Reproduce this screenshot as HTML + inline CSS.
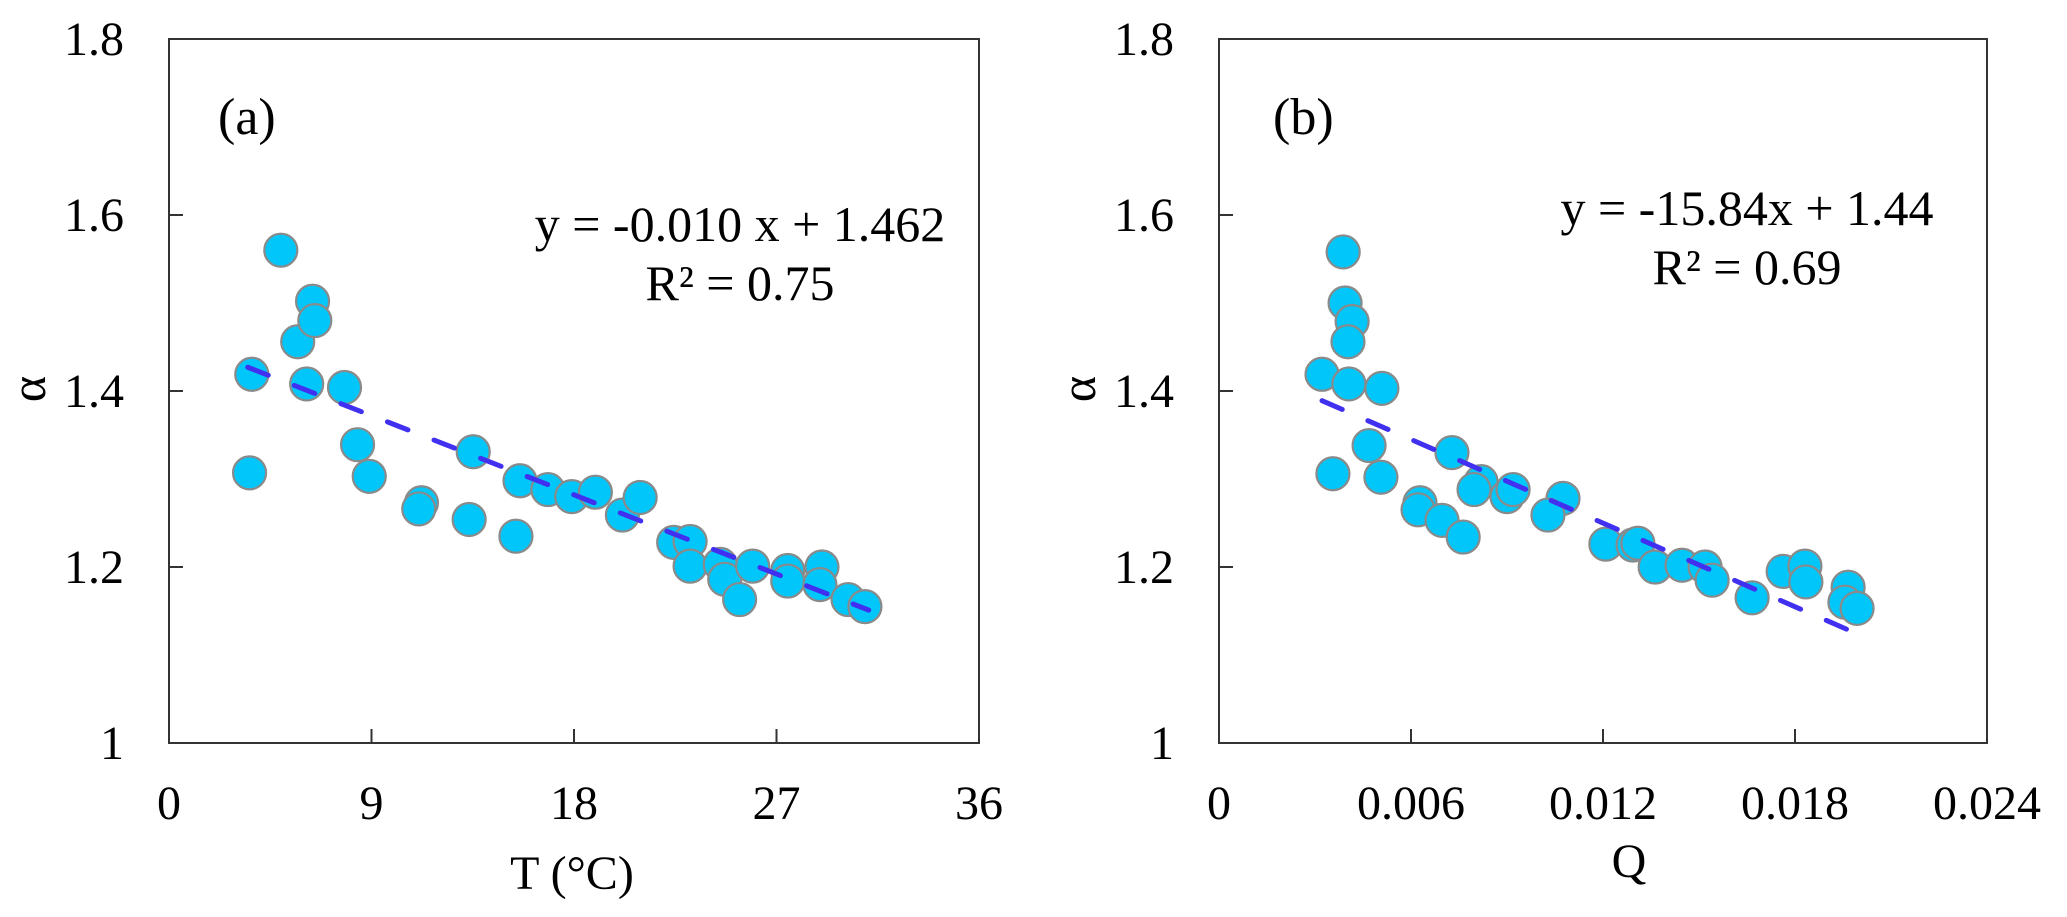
<!DOCTYPE html>
<html><head><meta charset="utf-8">
<style>
html,body{margin:0;padding:0;background:#fff;}
svg{display:block;font-family:"Liberation Serif",serif;}
</style></head>
<body>
<svg id="chart" width="2067" height="917" viewBox="0 0 2067 917" xmlns="http://www.w3.org/2000/svg"></svg>
<script>
// Panel (a): alpha vs temperature
const tempValues = [3.68,3.58,4.97,5.72,6.38,6.48,6.12,7.8,8.38,8.9,11.22,11.1,13.34,13.52,15.42,15.6,16.84,17.9,18.95,20.15,20.94,22.43,23.16,23.16,24.5,24.7,25.36,25.94,27.5,27.5,29.02,28.93,30.18,30.93];
const alphaA = [1.419,1.307,1.560,1.456,1.502,1.480,1.408,1.404,1.339,1.303,1.273,1.266,1.254,1.331,1.235,1.298,1.288,1.280,1.285,1.259,1.279,1.228,1.229,1.201,1.203,1.186,1.163,1.201,1.196,1.184,1.200,1.180,1.163,1.155];
const fitA = {slope:-0.010, intercept:1.462, x0:3.5, x1:31.1};
const xTicksA = [0,9,18,27,36];
// Panel (b): alpha vs Q
const qValues = [0.00388,0.00394,0.00416,0.00403,0.00322,0.00406,0.00509,0.00469,0.00356,0.00506,0.00728,0.00628,0.00622,0.00697,0.00763,0.00819,0.00797,0.00900,0.00919,0.01075,0.01028,0.01209,0.01294,0.01309,0.01363,0.01447,0.01519,0.01541,0.01666,0.01763,0.01831,0.01834,0.01966,0.01956,0.01994];
const alphaB = [1.558,1.500,1.479,1.456,1.419,1.408,1.403,1.338,1.306,1.302,1.330,1.273,1.265,1.253,1.234,1.297,1.288,1.280,1.288,1.278,1.259,1.226,1.225,1.227,1.200,1.202,1.200,1.185,1.165,1.195,1.201,1.183,1.177,1.160,1.153];
const fitB = {slope:-15.84, intercept:1.44, x0:0.00322, x1:0.01966};
const xTicksB = ["0","0.006","0.012","0.018","0.024"];
const yTicks = ["1","1.2","1.4","1.6","1.8"];

const NS="http://www.w3.org/2000/svg";
const svg=document.getElementById('chart');
function mk(tag,attrs,parent){const e=document.createElementNS(NS,tag);for(const k in attrs)e.setAttribute(k,attrs[k]);(parent||svg).appendChild(e);return e;}

function panel(cfg){
  const g=mk('g',{});
  
  
  const L=cfg.left,R=cfg.right,T=39,B=743;
  const sx=v=>L+(v-cfg.xmin)/(cfg.xmax-cfg.xmin)*(R-L);
  const sy=v=>B-(v-1)/(0.8)*(B-T);
  const frame=mk('rect',{x:L,y:T,width:R-L,height:B-T,fill:'none',stroke:'#333',"stroke-width":2},g);
  
  
  // y ticks & labels
  yTicks.forEach((t,i)=>{
    const v=parseFloat(t),y=sy(v);
    if(i>0&&i<yTicks.length-1){const tk=mk('line',{x1:L,x2:L+14,y1:y,y2:y,stroke:'#333',"stroke-width":2},g);
      
      }
    const lb=mk('text',{x:L-45,y:y+16,"text-anchor":"end","font-size":48,fill:'#000'},g);
    lb.textContent=t;
    
    
  });
  // x ticks & labels
  cfg.xTicks.forEach((t,i)=>{
    const v=parseFloat(t),x=sx(v);
    if(i>0&&i<cfg.xTicks.length-1){const tk=mk('line',{x1:x,x2:x,y1:B,y2:B-14,stroke:'#333',"stroke-width":2},g);
      
      }
    const lb=mk('text',{x:x,y:819,"text-anchor":"middle","font-size":48,fill:'#000'},g);
    lb.textContent=String(t);
    
    
  });
  // points
  cfg.xs.forEach((xv,i)=>{
    const c=mk('circle',{cx:sx(xv),cy:sy(cfg.ys[i]),r:16.5,fill:'#00c6fa',stroke:'#8a8a8a',"stroke-width":2.2},g);
    
    
  });
  // trend line
  const f=cfg.fit;
  const ln=mk('line',{x1:sx(f.x0),y1:sy(f.slope*f.x0+f.intercept),x2:sx(f.x1),y2:sy(f.slope*f.x1+f.intercept),stroke:'#4130f0',"stroke-width":5,"stroke-dasharray":"22 28","stroke-linecap":"round"},g);
  
  
  // labels
  const pl=mk('text',{x:cfg.tagX,y:134,"font-size":52,fill:'#000'},g);
  pl.textContent=cfg.tag;
  
  
  const eq=mk('text',{x:cfg.eqX,y:cfg.eqY,"text-anchor":"middle","font-size":50,fill:'#000'},g);
  eq.textContent=cfg.eq;
  
  
  const r2=mk('text',{x:cfg.eqX,y:cfg.eqY+59,"text-anchor":"middle","font-size":50,fill:'#000'},g);
  r2.textContent=cfg.r2;
  
  
  const xt=mk('text',{x:cfg.xTitleX,y:cfg.xTitleY,"text-anchor":"middle","font-size":48,fill:'#000'},g);
  xt.textContent=cfg.xTitle;
  
  
  const yt=mk('text',{x:0,y:0,"text-anchor":"middle","font-size":50,fill:'#000',transform:`translate(${L-138+14},389) rotate(-90)`},g);
  yt.textContent='α';
  
  
}
panel({name:'panel-a',left:169,right:979,xmin:0,xmax:36,xs:tempValues,ys:alphaA,fit:fitA,xTicks:xTicksA,
  tag:'(a)',tagX:218,eq:'y = -0.010 x + 1.462',r2:'R² = 0.75',eqX:740,eqY:241,xTitle:'T (°C)',xTitleX:572,xTitleY:889});
panel({name:'panel-b',left:1219,right:1987,xmin:0,xmax:0.024,xs:qValues,ys:alphaB,fit:fitB,xTicks:xTicksB,
  tag:'(b)',tagX:1273,eq:'y = -15.84x + 1.44',r2:'R² = 0.69',eqX:1747,eqY:225,xTitle:'Q',xTitleX:1629,xTitleY:877});
</script>
</body></html>
